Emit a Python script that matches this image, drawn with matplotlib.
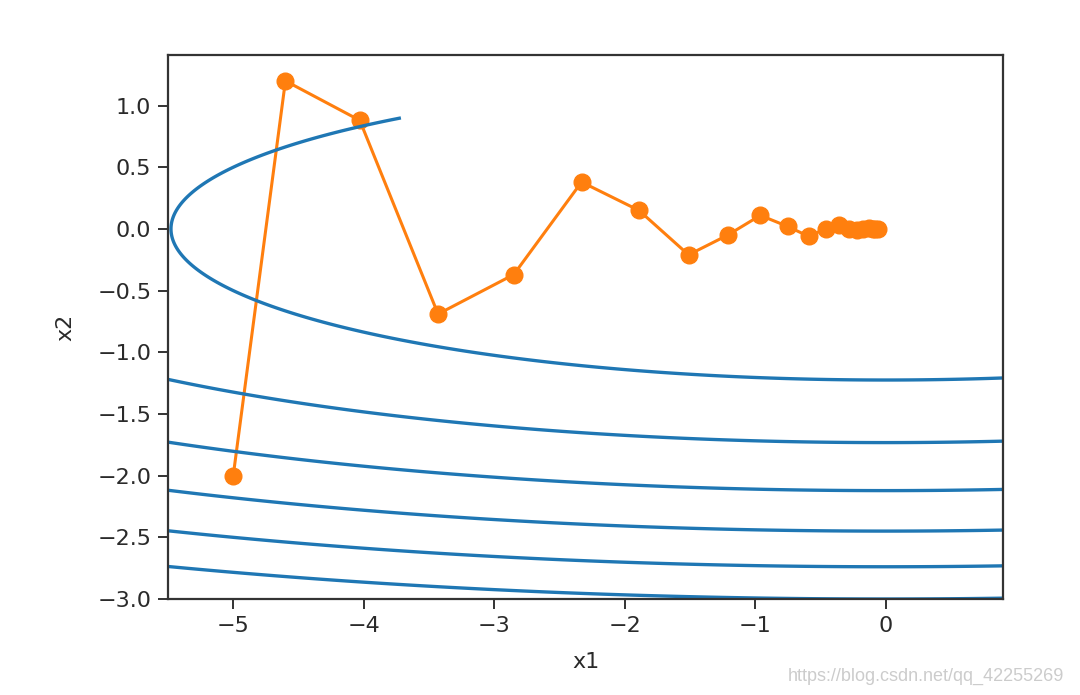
import numpy as np
import matplotlib.pyplot as plt

# trajectory of the momentum optimiser
x1_path = [-5.0, -4.6, -4.03, -3.43, -2.85, -2.33, -1.89, -1.51, -1.21, -0.96,
           -0.75, -0.59, -0.46, -0.36, -0.28, -0.22, -0.17, -0.13, -0.10, -0.08, -0.06]
x2_path = [-2.0, 1.2, 0.88, -0.69, -0.37, 0.38, 0.15, -0.21, -0.05, 0.11,
           0.02, -0.06, 0.0, 0.03, 0.0, -0.01, 0.0, 0.01, 0.0, 0.0, 0.0]

# objective surface f = 0.1*x1^2 + 2*x2^2, contour levels as drawn
levels = [3, 6, 9, 12, 15, 18]
g1, g2 = np.meshgrid(np.linspace(-5.5, 0.9, 400), np.linspace(-3.0, 0.9, 300))
f = 0.1 * g1 ** 2 + 2 * g2 ** 2

fig = plt.figure(figsize=(10.8, 6.95), dpi=100)
ax = fig.add_axes([168 / 1080, 1 - 599 / 695, 835 / 1080, 544 / 695])

ax.plot(x1_path, x2_path, '-o', color='#ff7f0e', lw=2.2, ms=12)
ax.contour(g1, g2, f, levels=levels, colors='#1f77b4', linewidths=2.4)

ax.set_xlim(-5.5, 0.9)
ax.set_ylim(-3.0, 1.41)
ax.set_xticks([-5, -4, -3, -2, -1, 0])
ax.set_yticks([-3.0, -2.5, -2.0, -1.5, -1.0, -0.5, 0.0, 0.5, 1.0])
ax.tick_params(labelsize=16, length=7, width=1.4, pad=5, colors='#333333', labelcolor='#2a2a2a')
for s in ax.spines.values():
    s.set_linewidth(1.6)
    s.set_color('#333333')
ax.set_xlabel('x1', fontsize=16, color='#2a2a2a', labelpad=12)
ax.set_ylabel('x2', fontsize=16, color='#2a2a2a', labelpad=16)

fig.text(0.985, 0.015, 'https://blog.csdn.net/qq_42255269', ha='right', va='bottom',
         fontsize=13, color='#cccccc', family='Liberation Sans')

fig.savefig('out.png', dpi=100)
